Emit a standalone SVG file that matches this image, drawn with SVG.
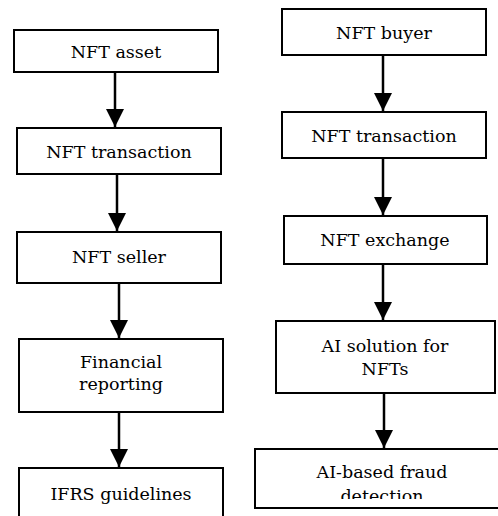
<svg xmlns="http://www.w3.org/2000/svg" width="498" height="516" viewBox="0 0 498 516">
<style>
.box{fill:#fff;stroke:#000;stroke-width:2}
.lbl{font-family:"DejaVu Serif",serif;font-size:17.5px;fill:#000;text-anchor:middle}
.edge{stroke:#000;stroke-width:2.5;fill:none}
</style>
<defs>
<marker id="ah" markerUnits="userSpaceOnUse" markerWidth="18" markerHeight="18" viewBox="0 0 16 16" refX="16" refY="8" orient="auto">
<path d="M0,0 L16,8 L0,16 Z" fill="#000"/>
</marker>
<clipPath id="clipR5"><rect x="250" y="440" width="248" height="59"/></clipPath>
</defs>
<rect width="498" height="516" fill="#fff"/>
<g id="connectors">
<line class="edge" x1="115" y1="72" x2="115" y2="127" marker-end="url(#ah)"/>
<line class="edge" x1="117" y1="174" x2="117" y2="231" marker-end="url(#ah)"/>
<line class="edge" x1="119" y1="283" x2="119" y2="338" marker-end="url(#ah)"/>
<line class="edge" x1="119" y1="412" x2="119" y2="467" marker-end="url(#ah)"/>
<line class="edge" x1="383" y1="55" x2="383" y2="111" marker-end="url(#ah)"/>
<line class="edge" x1="383" y1="158" x2="383" y2="215" marker-end="url(#ah)"/>
<line class="edge" x1="383" y1="264" x2="383" y2="320" marker-end="url(#ah)"/>
<line class="edge" x1="384" y1="393" x2="384" y2="448" marker-end="url(#ah)"/>
</g>
<g id="n1"><rect class="box" x="14" y="30" width="204" height="42"/><text class="lbl" x="116" y="58">NFT asset</text></g>
<g id="n2"><rect class="box" x="17" y="128" width="204" height="46"/><text class="lbl" x="119" y="158">NFT transaction</text></g>
<g id="n3"><rect class="box" x="17" y="232" width="204" height="51"/><text class="lbl" x="119" y="263">NFT seller</text></g>
<g id="n4"><rect class="box" x="19" y="339" width="204" height="73"/><text class="lbl" x="121" y="368">Financial</text><text class="lbl" x="121" y="390">reporting</text></g>
<g id="n5"><rect class="box" x="19" y="468" width="204" height="60"/><text class="lbl" x="121" y="500">IFRS guidelines</text></g>
<g id="r1"><rect class="box" x="282" y="9" width="204" height="46"/><text class="lbl" x="384" y="39">NFT buyer</text></g>
<g id="r2"><rect class="box" x="282" y="112" width="204" height="46"/><text class="lbl" x="384" y="142">NFT transaction</text></g>
<g id="r3"><rect class="box" x="284" y="216" width="203" height="48"/><text class="lbl" x="385" y="246">NFT exchange</text></g>
<g id="r4"><rect class="box" x="276" y="321" width="219" height="72"/><text class="lbl" x="385" y="352">AI solution for</text><text class="lbl" x="385" y="375">NFTs</text></g>
<g id="r5"><rect class="box" x="255" y="449" width="245" height="59"/><g clip-path="url(#clipR5)"><text class="lbl" x="382" y="478">AI-based fraud</text><text class="lbl" x="382" y="502">detection</text></g></g>
</svg>
